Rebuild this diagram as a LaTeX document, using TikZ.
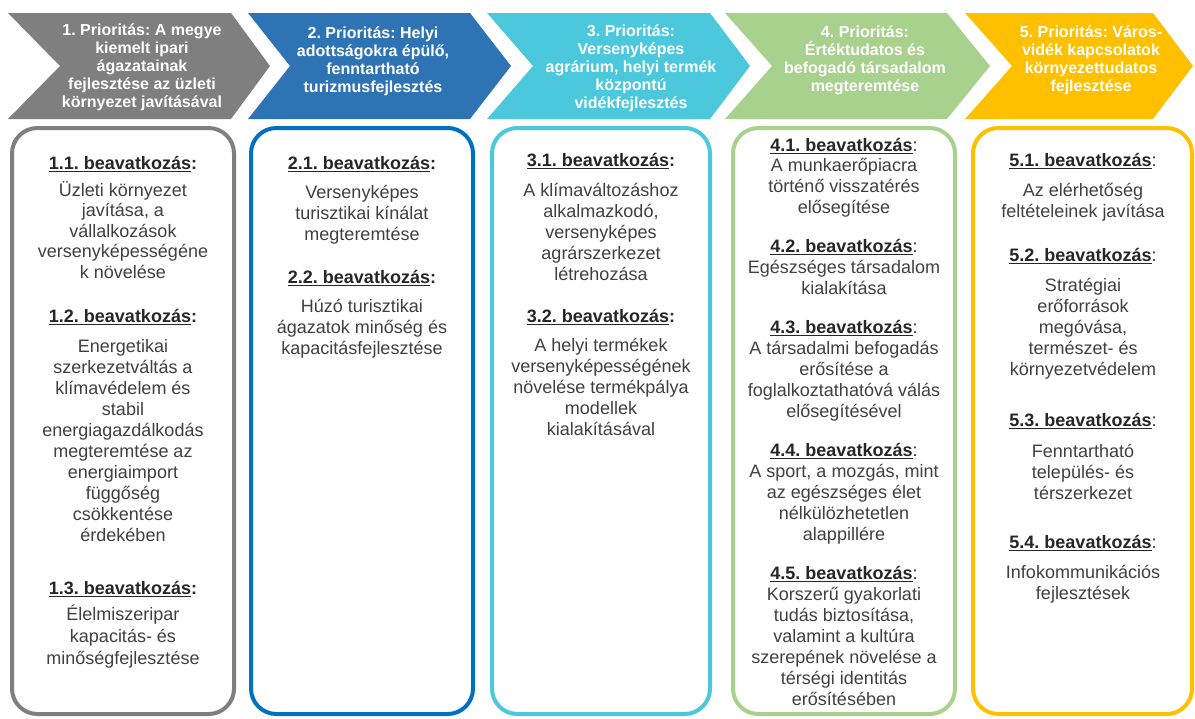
\documentclass[tikz,border=0pt]{standalone}
\usepackage{fontspec}
\setmainfont{Liberation Sans}
\frenchspacing
\definecolor{cgray}{HTML}{7F7F7F}
\definecolor{cblue}{HTML}{2E74B5}
\definecolor{bblue}{HTML}{0070C0}
\definecolor{ccyan}{HTML}{4BC8DB}
\definecolor{cgreen}{HTML}{A9D18E}
\definecolor{cyell}{HTML}{FFC000}
\definecolor{txtc}{HTML}{404040}
\definecolor{headc}{HTML}{262626}
\tikzset{
  bodytxt/.style={anchor=base, inner sep=0pt, font=\fontsize{13.5}{15.75}\selectfont, text=txtc},
  headtxt/.style={anchor=base, inner sep=0pt, font=\fontsize{13.5}{15.75}\selectfont, text=headc},
  prtxt/.style={anchor=base, inner sep=0pt, font=\fontsize{12}{13.5}\selectfont\bfseries, text=white},
  colbox/.style={draw=#1, line width=3pt, rounded corners=19pt, fill=white},
  chev/.style={fill=#1, draw=none},
}
\newsavebox{\ulsave}
\newcommand{\myul}[1]{\sbox{\ulsave}{#1}\rlap{\rule[-2.2pt]{\wd\ulsave}{0.9pt}}\usebox{\ulsave}}
% #1 name prefix, #2 x, #3 first line centre y, #4 step, #5 list
\newcommand{\txtblock}[5]{%
  \foreach \t [count=\i] in {#5} {\node[bodytxt] (#1-\i) at (#2,{#3+(\i-1)*#4+6}) {\t};}}
\newcommand{\prblock}[4]{%
  \foreach \t [count=\i] in {#4} {\node[prtxt] (#1-\i) at (#2,{#3+(\i-1)*18+5.5}) {\t};}}
\newcommand{\hdnode}[4]{\node[headtxt] (#1) at (#2,{#3+6}) {#4};}
\begin{document}
\begin{tikzpicture}[x=0.75pt,y=-0.75pt]
\useasboundingbox (0,0) rectangle (1195,718);
% chevrons
\fill[chev=cgray]  (8,13) -- (231,13) -- (270,66) -- (231,119) -- (8,119) -- (60,66) -- cycle;
\fill[chev=cblue]  (248,13) -- (470,13) -- (511,66) -- (470,119) -- (248,119) -- (290,66) -- cycle;
\fill[chev=ccyan]  (487,13) -- (710,13) -- (750,66) -- (710,119) -- (487,119) -- (533,66) -- cycle;
\fill[chev=cgreen] (725,13) -- (947,13) -- (990,66) -- (947,119) -- (725,119) -- (772,66) -- cycle;
\fill[chev=cyell]  (965,13) -- (1153,13) -- (1193,66) -- (1153,119) -- (965,119) -- (1012,66) -- cycle;
\prblock{p1}{142}{30}{1. Prioritás: A megye, kiemelt ipari, ágazatainak, fejlesztése az üzleti, környezet javításával}
\prblock{p2}{373}{33}{2. Prioritás: Helyi, {adottságokra épülő,}, fenntartható, turizmusfejlesztés}
\prblock{p3}{631}{31}{3. Prioritás:, Versenyképes, {agrárium, helyi termék}, központú, vidékfejlesztés}
\prblock{p4}{865}{32}{4. Prioritás:, Értéktudatos és, befogadó társadalom, megteremtése}
\prblock{p5}{1091}{32}{5. Prioritás: Város-, vidék kapcsolatok, környezettudatos, fejlesztése}
% boxes
\draw[colbox=cgray]  (12,128) rectangle (234,714);
\draw[colbox=bblue]  (251,128) rectangle (473,714);
\draw[colbox=ccyan]  (492,128) rectangle (710,714);
\draw[colbox=cgreen] (733,128) rectangle (955,714);
\draw[colbox=cyell]  (973,128) rectangle (1192,714);
% box 1
\hdnode{h11}{123}{163}{\textbf{\myul{1.1. beavatkozás}:}}
\txtblock{t11}{123}{190}{20.5}{Üzleti környezet, {javítása, a}, vállalkozások, versenyképességéne, k növelése}
\hdnode{h12}{123}{316}{\textbf{\myul{1.2. beavatkozás}:}}
\txtblock{t12}{123}{346}{21}{Energetikai, szerkezetváltás a, klímavédelem és, stabil, energiagazdálkodás, megteremtése az, energiaimport, függőség, csökkentése, érdekében}
\hdnode{h13}{123}{588}{\textbf{\myul{1.3. beavatkozás}:}}
\txtblock{t13}{123}{614}{22}{Élelmiszeripar, kapacitás- és, minőségfejlesztése}
% box 2
\hdnode{h21}{362}{163}{\textbf{\myul{2.1. beavatkozás}:}}
\txtblock{t21}{362}{192}{21}{Versenyképes, turisztikai kínálat, megteremtése}
\hdnode{h22}{362}{277}{\textbf{\myul{2.2. beavatkozás}:}}
\txtblock{t22}{362}{306}{21}{Húzó turisztikai, ágazatok minőség és, kapacitásfejlesztése}
% box 3
\hdnode{h31}{601}{160}{\textbf{\myul{3.1. beavatkozás}:}}
\txtblock{t31}{601}{190}{21}{A klímaváltozáshoz, {alkalmazkodó,}, versenyképes, agrárszerkezet, létrehozása}
\hdnode{h32}{601}{316}{\textbf{\myul{3.2. beavatkozás}:}}
\txtblock{t32}{601}{345}{21}{A helyi termékek, versenyképességének, növelése termékpálya, modellek, kialakításával}
% box 4
\hdnode{h41}{844}{145}{\myul{\textbf{4.1. beavatkozás}}:}
\txtblock{t41}{844}{165}{21}{A munkaerőpiacra, történő visszatérés, elősegítése}
\hdnode{h42}{844}{246}{\myul{\textbf{4.2. beavatkozás}}:}
\txtblock{t42}{844}{267}{21}{Egészséges társadalom, kialakítása}
\hdnode{h43}{844}{327}{\myul{\textbf{4.3. beavatkozás}}:}
\txtblock{t43}{844}{348}{21}{A társadalmi befogadás, erősítése a, foglalkoztathatóvá válás, elősegítésével}
\hdnode{h44}{844}{450}{\myul{\textbf{4.4. beavatkozás}}:}
\txtblock{t44}{844}{471}{21}{{A sport, a mozgás, mint}, az egészséges élet, nélkülözhetetlen, alappillére}
\hdnode{h45}{844}{573}{\myul{\textbf{4.5. beavatkozás}}:}
\txtblock{t45}{844}{594}{21}{Korszerű gyakorlati, {tudás biztosítása,}, valamint a kultúra, szerepének növelése a, térségi identitás, erősítésében}
% box 5
\hdnode{h51}{1083}{160}{\myul{\textbf{5.1. beavatkozás}}:}
\txtblock{t51}{1083}{190}{21}{Az elérhetőség, feltételeinek javítása}
\hdnode{h52}{1083}{255}{\myul{\textbf{5.2. beavatkozás}}:}
\txtblock{t52}{1083}{285}{21}{Stratégiai, erőforrások, {megóvása,}, természet- és, környezetvédelem}
\hdnode{h53}{1083}{420}{\myul{\textbf{5.3. beavatkozás}}:}
\txtblock{t53}{1083}{451}{21}{Fenntartható, település- és, térszerkezet}
\hdnode{h54}{1083}{542}{\myul{\textbf{5.4. beavatkozás}}:}
\txtblock{t54}{1083}{572}{21}{Infokommunikációs, fejlesztések}
\end{tikzpicture}
\end{document}
